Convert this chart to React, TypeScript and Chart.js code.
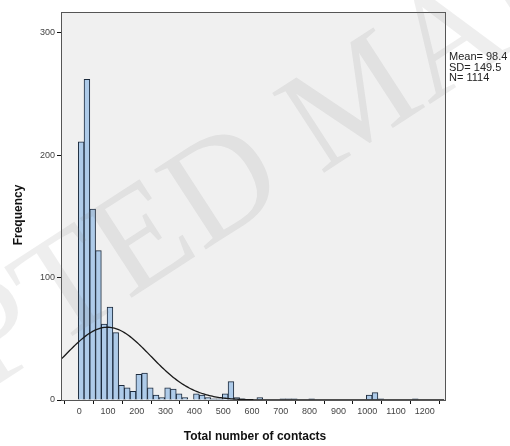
import React, { useEffect, useRef } from "react";
import { Chart, registerables } from "chart.js";

Chart.register(...registerables);

// Histogram bins: start at -3, width 20
const binStart = -3;
const binWidth = 20;
const binCounts = [
  211, 262, 156, 122, 62, 76, 55, 12, 10, 7,
  21, 22, 10, 4, 2, 10, 9, 5, 2, 0,
  5, 4, 2, 1, 1, 5, 15, 2, 1, 0,
  0, 2, 0, 0, 0, 1, 1, 1, 0, 0,
  1, 0, 0, 0, 0, 0, 0, 0, 0, 0,
  4, 6, 1, 0, 0, 0, 0, 0, 1,
];

const xTickValues = [0, 100, 200, 300, 400, 500, 600, 700, 800, 900, 1000, 1100, 1200];
const yTickValues = [0, 100, 200, 300];

const statMean = 98.4;
const statSD = 149.5;
const statN = 1114;
const statLines = ["Mean= 98.4", "SD= 149.5", "N= 1114"];

const xTitle = "Total number of contacts";
const yTitle = "Frequency";
const watermark = "ACCEPTED MANUSCRIPT";

const X_MIN = -63;
const X_MAX = 1270;
const Y_MAX = 317;

function normalCurve() {
  const pts: { x: number; y: number }[] = [];
  const k = (statN * binWidth) / (statSD * Math.sqrt(2 * Math.PI));
  for (let x = X_MIN; x <= X_MAX; x += 5) {
    const z = (x - statMean) / statSD;
    pts.push({ x, y: k * Math.exp(-0.5 * z * z) });
  }
  return pts;
}

export default function App() {
  const ref = useRef<HTMLCanvasElement | null>(null);

  useEffect(() => {
    if (!ref.current) return;
    const bars = binCounts
      .map((c, i) => ({ x: binStart + binWidth * (i + 0.5), y: c }))
      .filter((p) => p.y > 0);

    const bgPlugin = {
      id: "bg",
      beforeDraw(chart: any) {
        const { ctx, chartArea: a } = chart;
        ctx.save();
        ctx.fillStyle = "#ffffff";
        ctx.fillRect(0, 0, chart.width, chart.height);
        ctx.fillStyle = "#f0f0f0";
        ctx.fillRect(a.left, a.top, a.right - a.left, a.bottom - a.top);
        ctx.restore();
      },
      afterDatasetsDraw(chart: any) {
        const { ctx, chartArea: a } = chart;
        ctx.save();
        ctx.strokeStyle = "#555";
        ctx.lineWidth = 1;
        ctx.strokeRect(a.left + 0.5, a.top + 0.5, a.right - a.left, a.bottom - a.top);
        ctx.restore();
      },
      afterDraw(chart: any) {
        const { ctx, chartArea: a } = chart;
        ctx.save();
        ctx.fillStyle = "#111";
        ctx.font = "bold 12px 'Liberation Sans', Arial, sans-serif";
        ctx.textAlign = "center";
        ctx.textBaseline = "middle";
        ctx.fillText(xTitle, 255, 437);
        ctx.translate(19, 215);
        ctx.rotate(-Math.PI / 2);
        ctx.fillText(yTitle, 0, 0);
        ctx.restore();

        ctx.save();
        ctx.fillStyle = "#222";
        ctx.font = "11px 'Liberation Sans', Arial, sans-serif";
        ctx.textAlign = "left";
        ctx.textBaseline = "middle";
        statLines.forEach((s, i) => ctx.fillText(s, a.right + 4, 57 + i * 10.5));
        ctx.restore();

        // watermark
        ctx.save();
        ctx.font = "145px 'Liberation Serif', serif";
        ctx.fillStyle = "rgba(120,120,120,0.13)";
        ctx.textBaseline = "alphabetic";
        ctx.translate(128, 300);
        ctx.rotate((-33 * Math.PI) / 180);
        const off = ctx.measureText("ACCEPT").width;
        ctx.fillText(watermark, -off, 0);
        ctx.restore();
      },
    };

    const tickFont = { size: 9, family: "'Liberation Sans', Arial, sans-serif" };

    const chart = new Chart(ref.current, {
      type: "bar",
      data: {
        datasets: [
          {
            type: "line",
            data: normalCurve(),
            borderColor: "#1a1a1a",
            borderWidth: 1.3,
            pointRadius: 0,
            fill: false,
            tension: 0,
            order: 0,
          } as any,
          {
            type: "bar",
            data: bars,
            backgroundColor: "#aecbe9",
            borderColor: "#1c2a3c",
            borderWidth: 1,
            barPercentage: 1,
            categoryPercentage: 1,
            grouped: false,
            order: 1,
          } as any,
        ],
      },
      options: {
        responsive: false,
        animation: false,
        layout: { padding: { left: 0, top: 12, right: 65, bottom: 0 } },
        plugins: { legend: { display: false }, tooltip: { enabled: false } },
        scales: {
          x: {
            type: "linear",
            min: X_MIN,
            max: X_MAX,
            offset: false,
            afterBuildTicks: (s: any) => {
              s.ticks = xTickValues.map((v) => ({ value: v }));
            },
            afterFit: (s: any) => {
              s.height = 46;
            },
            grid: { drawOnChartArea: false, drawTicks: true, tickLength: 4, color: "#111" },
            border: { display: true, color: "#111", width: 1 },
            ticks: {
              font: tickFont,
              color: "#444",
              padding: 2,
              maxRotation: 0,
              autoSkip: false,
              callback: (v: any) => String(v),
            },
          },
          y: {
            type: "linear",
            min: 0,
            max: Y_MAX,
            afterBuildTicks: (s: any) => {
              s.ticks = yTickValues.map((v) => ({ value: v }));
            },
            afterFit: (s: any) => {
              s.width = 61;
            },
            grid: { drawOnChartArea: false, drawTicks: true, tickLength: 4, color: "#111" },
            border: { display: true, color: "#111", width: 1 },
            ticks: { font: tickFont, color: "#444", padding: 2, callback: (v: any) => String(v) },
          },
        },
      },
      plugins: [bgPlugin],
    } as any);
    return () => chart.destroy();
  }, []);

  return (
    <div style={{ position: "absolute", left: 0, top: 0, width: 510, height: 446 }}>
      <canvas ref={ref} width={510} height={446} />
    </div>
  );
}
